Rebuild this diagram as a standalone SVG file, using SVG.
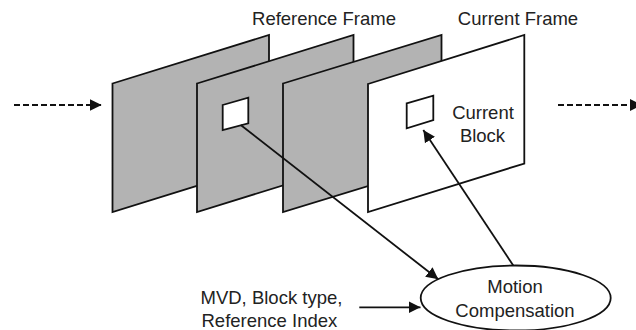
<svg xmlns="http://www.w3.org/2000/svg" width="636" height="330" viewBox="0 0 636 330">
  <style>
    .frame { stroke: #111; stroke-width: 1.8; stroke-linejoin: miter; }
    .gray { fill: #b3b3b3; }
    .white { fill: #ffffff; }
    .blk { fill: #ffffff; stroke: #111; stroke-width: 1.8; }
    .lbl { font-family: "Liberation Sans", Arial, sans-serif; font-size: 18.5px; fill: #222; }
    .conn { stroke: #111; stroke-width: 1.8; fill: none; }
    .dash { stroke: #111; stroke-width: 1.8; fill: none; stroke-dasharray: 6 3; }
  </style>
  <defs>
    <marker id="arr" markerUnits="userSpaceOnUse" markerWidth="14" markerHeight="13" refX="12" refY="6.5" orient="auto">
      <path d="M0,0.5 L12,6.5 L0,12.5 Z" fill="#111"/>
    </marker>
  </defs>
  <rect width="636" height="330" fill="#ffffff"/>

  <text class="lbl" x="324" y="25" text-anchor="middle">Reference Frame</text>
  <text class="lbl" x="518" y="25" text-anchor="middle">Current Frame</text>

  <g id="frame1">
    <polygon class="frame gray" points="112.5,83.5 269,35 269,163.5 112.5,212"/>
  </g>
  <g id="frame2">
    <polygon class="frame gray" points="197,83.5 353.5,35 353.5,163.5 197,212"/>
    <polygon id="refblock" class="blk" points="222.7,105 248.3,97.7 248.3,123.3 222.7,130"/>
  </g>
  <g id="frame3">
    <polygon class="frame gray" points="283,83.5 441.5,35 441.5,163.5 283,212"/>
  </g>
  <g id="frame4">
    <polygon class="frame white" points="368,84 524.3,35 524.3,163.5 368,212"/>
    <polygon id="curblock" class="blk" points="406.7,103.3 433.3,95.7 433.3,120 406.7,128.3"/>
    <text class="lbl" x="483" y="119" text-anchor="middle">Current</text>
    <text class="lbl" x="482.5" y="141.5" text-anchor="middle">Block</text>
  </g>

  <g id="mc">
    <ellipse cx="515.7" cy="298" rx="95" ry="32.5" fill="#ffffff" stroke="#111" stroke-width="1.8"/>
    <text class="lbl" x="515" y="293" text-anchor="middle">Motion</text>
    <text class="lbl" x="515" y="316.5" text-anchor="middle">Compensation</text>
  </g>

  <g id="input">
    <text class="lbl" x="200.5" y="304">MVD, Block type,</text>
    <text class="lbl" x="201.5" y="326.5">Reference Index</text>
  </g>

  <g id="connectors">
    <line class="dash" x1="14" y1="105" x2="101.7" y2="105" marker-end="url(#arr)"/>
    <line class="dash" x1="558" y1="105" x2="642" y2="105" marker-end="url(#arr)"/>
    <line class="conn" x1="240.7" y1="125" x2="438.3" y2="279.3" marker-end="url(#arr)"/>
    <line class="conn" x1="513.3" y1="265.5" x2="423.3" y2="130" marker-end="url(#arr)"/>
    <line class="conn" x1="359.3" y1="307.3" x2="420.5" y2="307.3" marker-end="url(#arr)"/>
  </g>
</svg>
